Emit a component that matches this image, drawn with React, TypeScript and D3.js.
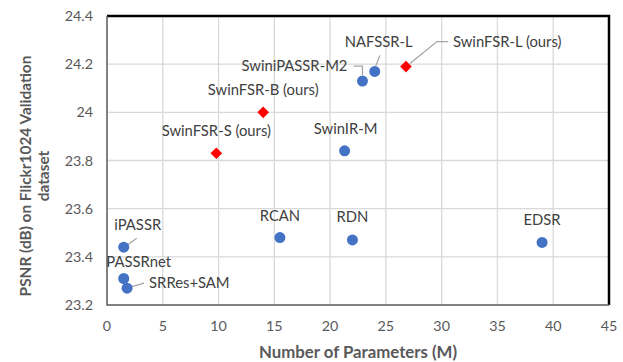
import * as d3 from "d3";
import { useEffect, useRef } from "react";

const methods = [
  "iPASSR", "PASSRnet", "SRRes+SAM", "RCAN", "RDN", "EDSR",
  "SwinIR-M", "SwiniPASSR-M2", "NAFSSR-L",
];
const methodParams = [1.5, 1.5, 1.8, 15.5, 22.0, 39.0, 21.3, 22.9, 24.0];
const methodPsnr = [23.44, 23.31, 23.27, 23.48, 23.47, 23.46, 23.84, 24.13, 24.17];

const ours = ["SwinFSR-S (ours)", "SwinFSR-B (ours)", "SwinFSR-L (ours)"];
const oursParams = [9.8, 14.0, 26.8];
const oursPsnr = [23.83, 24.0, 24.19];

const xTicks = [0, 5, 10, 15, 20, 25, 30, 35, 40, 45];
const yTicks = [23.2, 23.4, 23.6, 23.8, 24, 24.2, 24.4];

// label placement in pixels relative to the marker; leader = polyline back to the point
const labelPos: Record<string, { dx: number; dy: number; anchor: string; leader?: number[][] }> = {
  "iPASSR": { dx: 14, dy: -22, anchor: "middle", leader: [[13, -9], [2, -1]] },
  "PASSRnet": { dx: 15, dy: -17, anchor: "middle" },
  "SRRes+SAM": { dx: 22, dy: -5, anchor: "start", leader: [[17, -5], [3, -1]] },
  "RCAN": { dx: 0, dy: -22, anchor: "middle" },
  "RDN": { dx: 0, dy: -23, anchor: "middle" },
  "EDSR": { dx: 0, dy: -23, anchor: "middle" },
  "SwinIR-M": { dx: 1, dy: -22, anchor: "middle" },
  "SwiniPASSR-M2": { dx: -15, dy: -15, anchor: "end", leader: [[-9, -15], [0, -15], [0, -6]] },
  "NAFSSR-L": { dx: 4, dy: -30, anchor: "middle", leader: [[5, -16], [1, -5]] },
  "SwinFSR-S (ours)": { dx: 0, dy: -22, anchor: "middle" },
  "SwinFSR-B (ours)": { dx: 0, dy: -23, anchor: "middle" },
  "SwinFSR-L (ours)": { dx: 47, dy: -25, anchor: "start", leader: [[42, -25], [31, -25], [4, -3]] },
};

export default function App() {
  const ref = useRef<SVGSVGElement>(null);

  useEffect(() => {
    const W = 623, H = 362;
    const m = { left: 107, right: 14, top: 16, bottom: 57 };
    const svg = d3.select(ref.current!);
    svg.selectAll("*").remove();
    svg.attr("width", W).attr("height", H);
    const font = "Lato, 'Open Sans', sans-serif";

    const x = d3.scaleLinear().domain([0, 45]).range([m.left, W - m.right]);
    const y = d3.scaleLinear().domain([23.2, 24.4]).range([H - m.bottom, m.top]);

    svg.append("rect").attr("width", W).attr("height", H).attr("fill", "white");

    const grid = svg.append("g").attr("stroke", "#d9d9d9").attr("stroke-width", 1.3);
    grid.selectAll("line.v").data(xTicks.slice(1)).join("line")
      .attr("x1", (d) => x(d)).attr("x2", (d) => x(d))
      .attr("y1", y(24.4)).attr("y2", y(23.2));
    grid.selectAll("line.h").data(yTicks.slice(1)).join("line")
      .attr("x1", x(0)).attr("x2", x(45))
      .attr("y1", (d) => y(d)).attr("y2", (d) => y(d));

    // frame: heavy black top/right, grey axes left/bottom
    svg.append("path")
      .attr("d", `M${x(0)},${y(24.4)}H${x(45)}V${y(23.2)}`)
      .attr("fill", "none").attr("stroke", "#000").attr("stroke-width", 2.5);
    svg.append("path")
      .attr("d", `M${x(0)},${y(24.4)}V${y(23.2)}H${x(45)}`)
      .attr("fill", "none").attr("stroke", "#595959").attr("stroke-width", 1.5);

    const ticks = svg.append("g").attr("font-family", font).attr("font-size", 14.3).attr("fill", "#595959");
    ticks.selectAll("text.x").data(xTicks).join("text")
      .attr("x", (d) => x(d)).attr("y", y(23.2) + 26)
      .attr("text-anchor", "middle").text((d) => d);
    ticks.selectAll("text.y").data(yTicks).join("text")
      .attr("x", x(0) - 14).attr("y", (d) => y(d)).attr("dy", "0.35em")
      .attr("text-anchor", "end").text((d) => d3.format("")(d));

    svg.append("text")
      .attr("x", 358).attr("y", 358)
      .attr("text-anchor", "middle").attr("font-family", font)
      .attr("font-size", 16.8).attr("font-weight", "bold").attr("fill", "#595959")
      .text("Number of Parameters (M)");

    const yt = svg.append("text")
      .attr("transform", `translate(31,176) rotate(-90)`)
      .attr("text-anchor", "middle").attr("font-family", font)
      .attr("font-size", 15.4).attr("font-weight", "bold").attr("fill", "#595959");
    yt.append("tspan").attr("x", 0).attr("dy", 0).text("PSNR (dB) on Flickr1024 Validation");
    yt.append("tspan").attr("x", 0).attr("dy", 18).text("dataset");

    const pts = [
      ...methods.map((n, i) => ({ name: n, px: methodParams[i], v: methodPsnr[i], ours: false })),
      ...ours.map((n, i) => ({ name: n, px: oursParams[i], v: oursPsnr[i], ours: true })),
    ];

    const lbl = svg.append("g");
    pts.forEach((p) => {
      const L = labelPos[p.name];
      const cx = x(p.px), cy = y(p.v);
      if (L.leader) {
        lbl.append("polyline")
          .attr("points", L.leader.map(([a, b]) => `${cx + a},${cy + b}`).join(" "))
          .attr("fill", "none").attr("stroke", "#a6a6a6").attr("stroke-width", 1.3);
      }
      lbl.append("text")
        .attr("x", cx + L.dx).attr("y", cy + L.dy).attr("dy", "0.35em")
        .attr("text-anchor", L.anchor).attr("font-family", font)
        .attr("font-size", 14.8).attr("fill", "#404040").text(p.name);
    });

    svg.append("g").selectAll("circle").data(pts.filter((p) => !p.ours)).join("circle")
      .attr("cx", (d) => x(d.px)).attr("cy", (d) => y(d.v)).attr("r", 5.5)
      .attr("fill", "#4472c4");

    svg.append("g").selectAll("path").data(pts.filter((p) => p.ours)).join("path")
      .attr("transform", (d) => `translate(${x(d.px)},${y(d.v)}) rotate(45)`)
      .attr("d", d3.symbol().type(d3.symbolSquare).size(68)())
      .attr("fill", "#ff0000");
  }, []);

  return (
    <div style={{ position: "absolute", left: 0, top: 0 }}>
      <svg ref={ref} />
    </div>
  );
}
